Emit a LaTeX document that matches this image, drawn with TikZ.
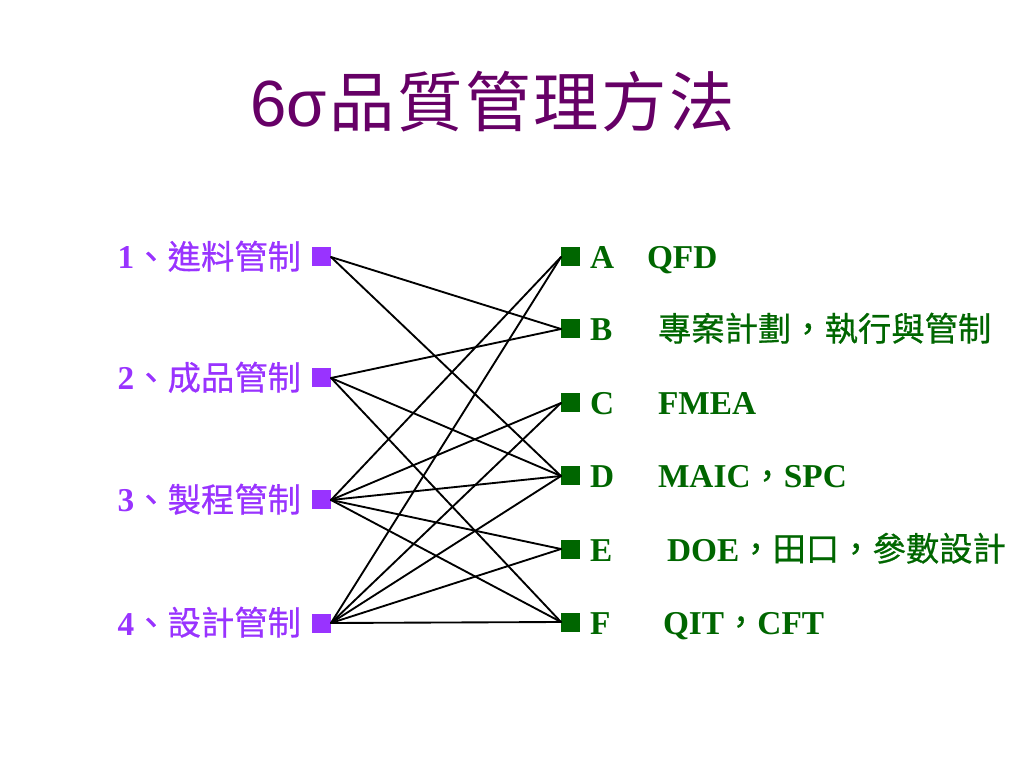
\documentclass[tikz,border=0pt]{standalone}
\usepackage{fontspec}
\setmainfont{Liberation Serif}
\newfontfamily\cjk[FakeBold=0.6]{Noto Sans CJK TC}
\newfontfamily\cjktitle[LetterSpace=4]{Noto Sans CJK TC}
\newfontfamily\headfont{Liberation Sans}

\begin{document}
\begin{tikzpicture}[x=0.75pt,y=0.75pt]
\definecolor{fillColor}{RGB}{255,255,255}
\definecolor{titleColor}{RGB}{102,0,102}
\definecolor{leftColor}{RGB}{153,51,255}
\definecolor{rightColor}{RGB}{0,102,0}
\definecolor{drawColor}{RGB}{0,0,0}
\tikzset{
  leftsq/.style={fill=leftColor,inner sep=0pt,outer sep=0pt,minimum size=14.25pt},
  rightsq/.style={fill=rightColor,inner sep=0pt,outer sep=0pt,minimum size=14.25pt},
  lefttext/.style={text=leftColor,anchor=base east,inner sep=0pt,outer sep=0pt,font=\fontsize{25}{30}\selectfont},
  righttext/.style={text=rightColor,anchor=base west,inner sep=0pt,outer sep=0pt,font=\fontsize{25}{30}\selectfont},
  link/.style={draw=drawColor,line width=1.4pt,line cap=round,line join=round}
}
\path[use as bounding box,fill=fillColor] (0,0) rectangle (1024,768);

\node[text=titleColor,anchor=base west,inner sep=0pt,outer sep=0pt,font=\fontsize{49}{58}\selectfont] (title) at (250,641) {{\headfont 6σ}\hspace{2pt}{\cjktitle 品質管理方法}};

% left column
\node[leftsq] (l1) at (321.5,511) {};
\node[leftsq] (l2) at (321.5,390) {};
\node[leftsq] (l3) at (321.5,268) {};
\node[leftsq] (l4) at (321.5,145) {};

\node[lefttext] (l1text) at (301,499) {\textbf{1}{\cjk 、進料管制}};
\node[lefttext] (l2text) at (301,378) {\textbf{2}{\cjk 、成品管制}};
\node[lefttext] (l3text) at (301,256) {\textbf{3}{\cjk 、製程管制}};
\node[lefttext] (l4text) at (301,133) {\textbf{4}{\cjk 、設計管制}};

% right column
\node[rightsq] (rA) at (570.5,511) {};
\node[rightsq] (rB) at (570.5,439) {};
\node[rightsq] (rC) at (570.5,365) {};
\node[rightsq] (rD) at (570.5,292) {};
\node[rightsq] (rE) at (570.5,219) {};
\node[rightsq] (rF) at (570.5,146) {};

\node[righttext] (rAkey) at (590,499) {\textbf{A}};
\node[righttext] (rBkey) at (590,427) {\textbf{B}};
\node[righttext] (rCkey) at (590,353) {\textbf{C}};
\node[righttext] (rDkey) at (590,280) {\textbf{D}};
\node[righttext] (rEkey) at (590,207) {\textbf{E}};
\node[righttext] (rFkey) at (590,134) {\textbf{F}};

\node[righttext] (rAtext) at (647,499) {\textbf{QFD}};
\node[righttext] (rBtext) at (658,427) {\cjk 專案計劃，執行與管制};
\node[righttext] (rCtext) at (658,353) {\textbf{FMEA}};
\node[righttext] (rDtext) at (658,280) {\textbf{MAIC}{\cjk ，}\textbf{SPC}};
\node[righttext] (rEtext) at (667,207) {\textbf{DOE}{\cjk ，田口，參數設計}};
\node[righttext] (rFtext) at (663,134) {\textbf{QIT}{\cjk ，}\textbf{CFT}};

% links
\draw[link] (l1.east) -- (rB.west);
\draw[link] (l1.east) -- (rD.west);
\draw[link] (l2.east) -- (rB.west);
\draw[link] (l2.east) -- (rD.west);
\draw[link] (l2.east) -- (rF.west);
\draw[link] (l3.east) -- (rA.west);
\draw[link] (l3.east) -- (rC.west);
\draw[link] (l3.east) -- (rD.west);
\draw[link] (l3.east) -- (rE.west);
\draw[link] (l3.east) -- (rF.west);
\draw[link] (l4.east) -- (rA.west);
\draw[link] (l4.east) -- (rC.west);
\draw[link] (l4.east) -- (rD.west);
\draw[link] (l4.east) -- (rE.west);
\draw[link] (l4.east) -- (rF.west);
\end{tikzpicture}
\end{document}
